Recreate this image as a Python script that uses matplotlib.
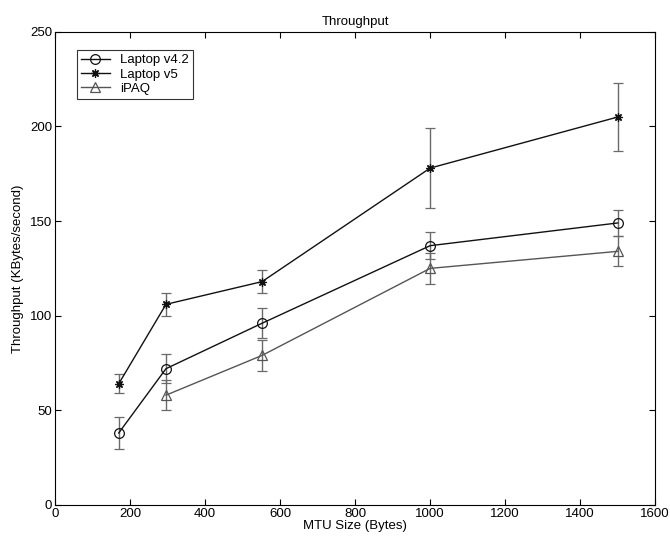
import numpy as np
import matplotlib
matplotlib.use("Agg")
import matplotlib.pyplot as plt

plt.rcParams["font.family"] = ["Liberation Sans", "DejaVu Sans"]
plt.rcParams["font.size"] = 9.5

mtu = [170, 296, 552, 1000, 1500]

v42 = [38, 72, 96, 137, 149]
v42_err = [8.5, 7.5, 8, 7, 7]

v5 = [64, 106, 118, 178, 205]
v5_err = [5, 6, 6, 21, 18]

ipaq_x = [296, 552, 1000, 1500]
ipaq = [58, 79, 125, 134]
ipaq_err = [8, 8, 8, 8]

fig = plt.figure(figsize=(6.7, 5.4), dpi=100)
ax = fig.add_axes([0.082, 0.065, 0.896, 0.876])

common = dict(mfc="none", lw=1.0, mew=0.9, ecolor="#6a6a6a", elinewidth=1,
              capsize=3.6, capthick=1)
c1 = ax.errorbar(mtu, v42, yerr=v42_err, color="#111111", marker="o",
                 ms=7, label="Laptop v4.2", **common)
c2 = ax.errorbar(mtu, v5, yerr=v5_err, color="#111111", marker=(8, 2, 0),
                 ms=6, label="Laptop v5", **common)
c3 = ax.errorbar(ipaq_x, ipaq, yerr=ipaq_err, color="#555555", marker="^",
                 ms=7, label="iPAQ", **common)

ax.set_xlim(0, 1600)
ax.set_ylim(0, 250)
ax.set_xticks(np.arange(0, 1601, 200))
ax.set_yticks(np.arange(0, 251, 50))
ax.tick_params(direction="in", top=True, right=True, length=4, pad=2)
ax.set_xlabel("MTU Size (Bytes)", labelpad=0)
ax.set_ylabel("Throughput (KBytes/second)", labelpad=4)
ax.set_title("Throughput", fontsize=9.5, pad=5)

handles = [c1.lines[0], c2.lines[0], c3.lines[0]]
leg = ax.legend(handles, ["Laptop v4.2", "Laptop v5", "iPAQ"],
                loc="upper left", bbox_to_anchor=(0.025, 0.975),
                fancybox=False, edgecolor="black", borderpad=0.3,
                labelspacing=0.15, handlelength=2.2, fontsize=9.5)
leg.get_frame().set_linewidth(0.8)

fig.savefig("out.png", dpi=100)
